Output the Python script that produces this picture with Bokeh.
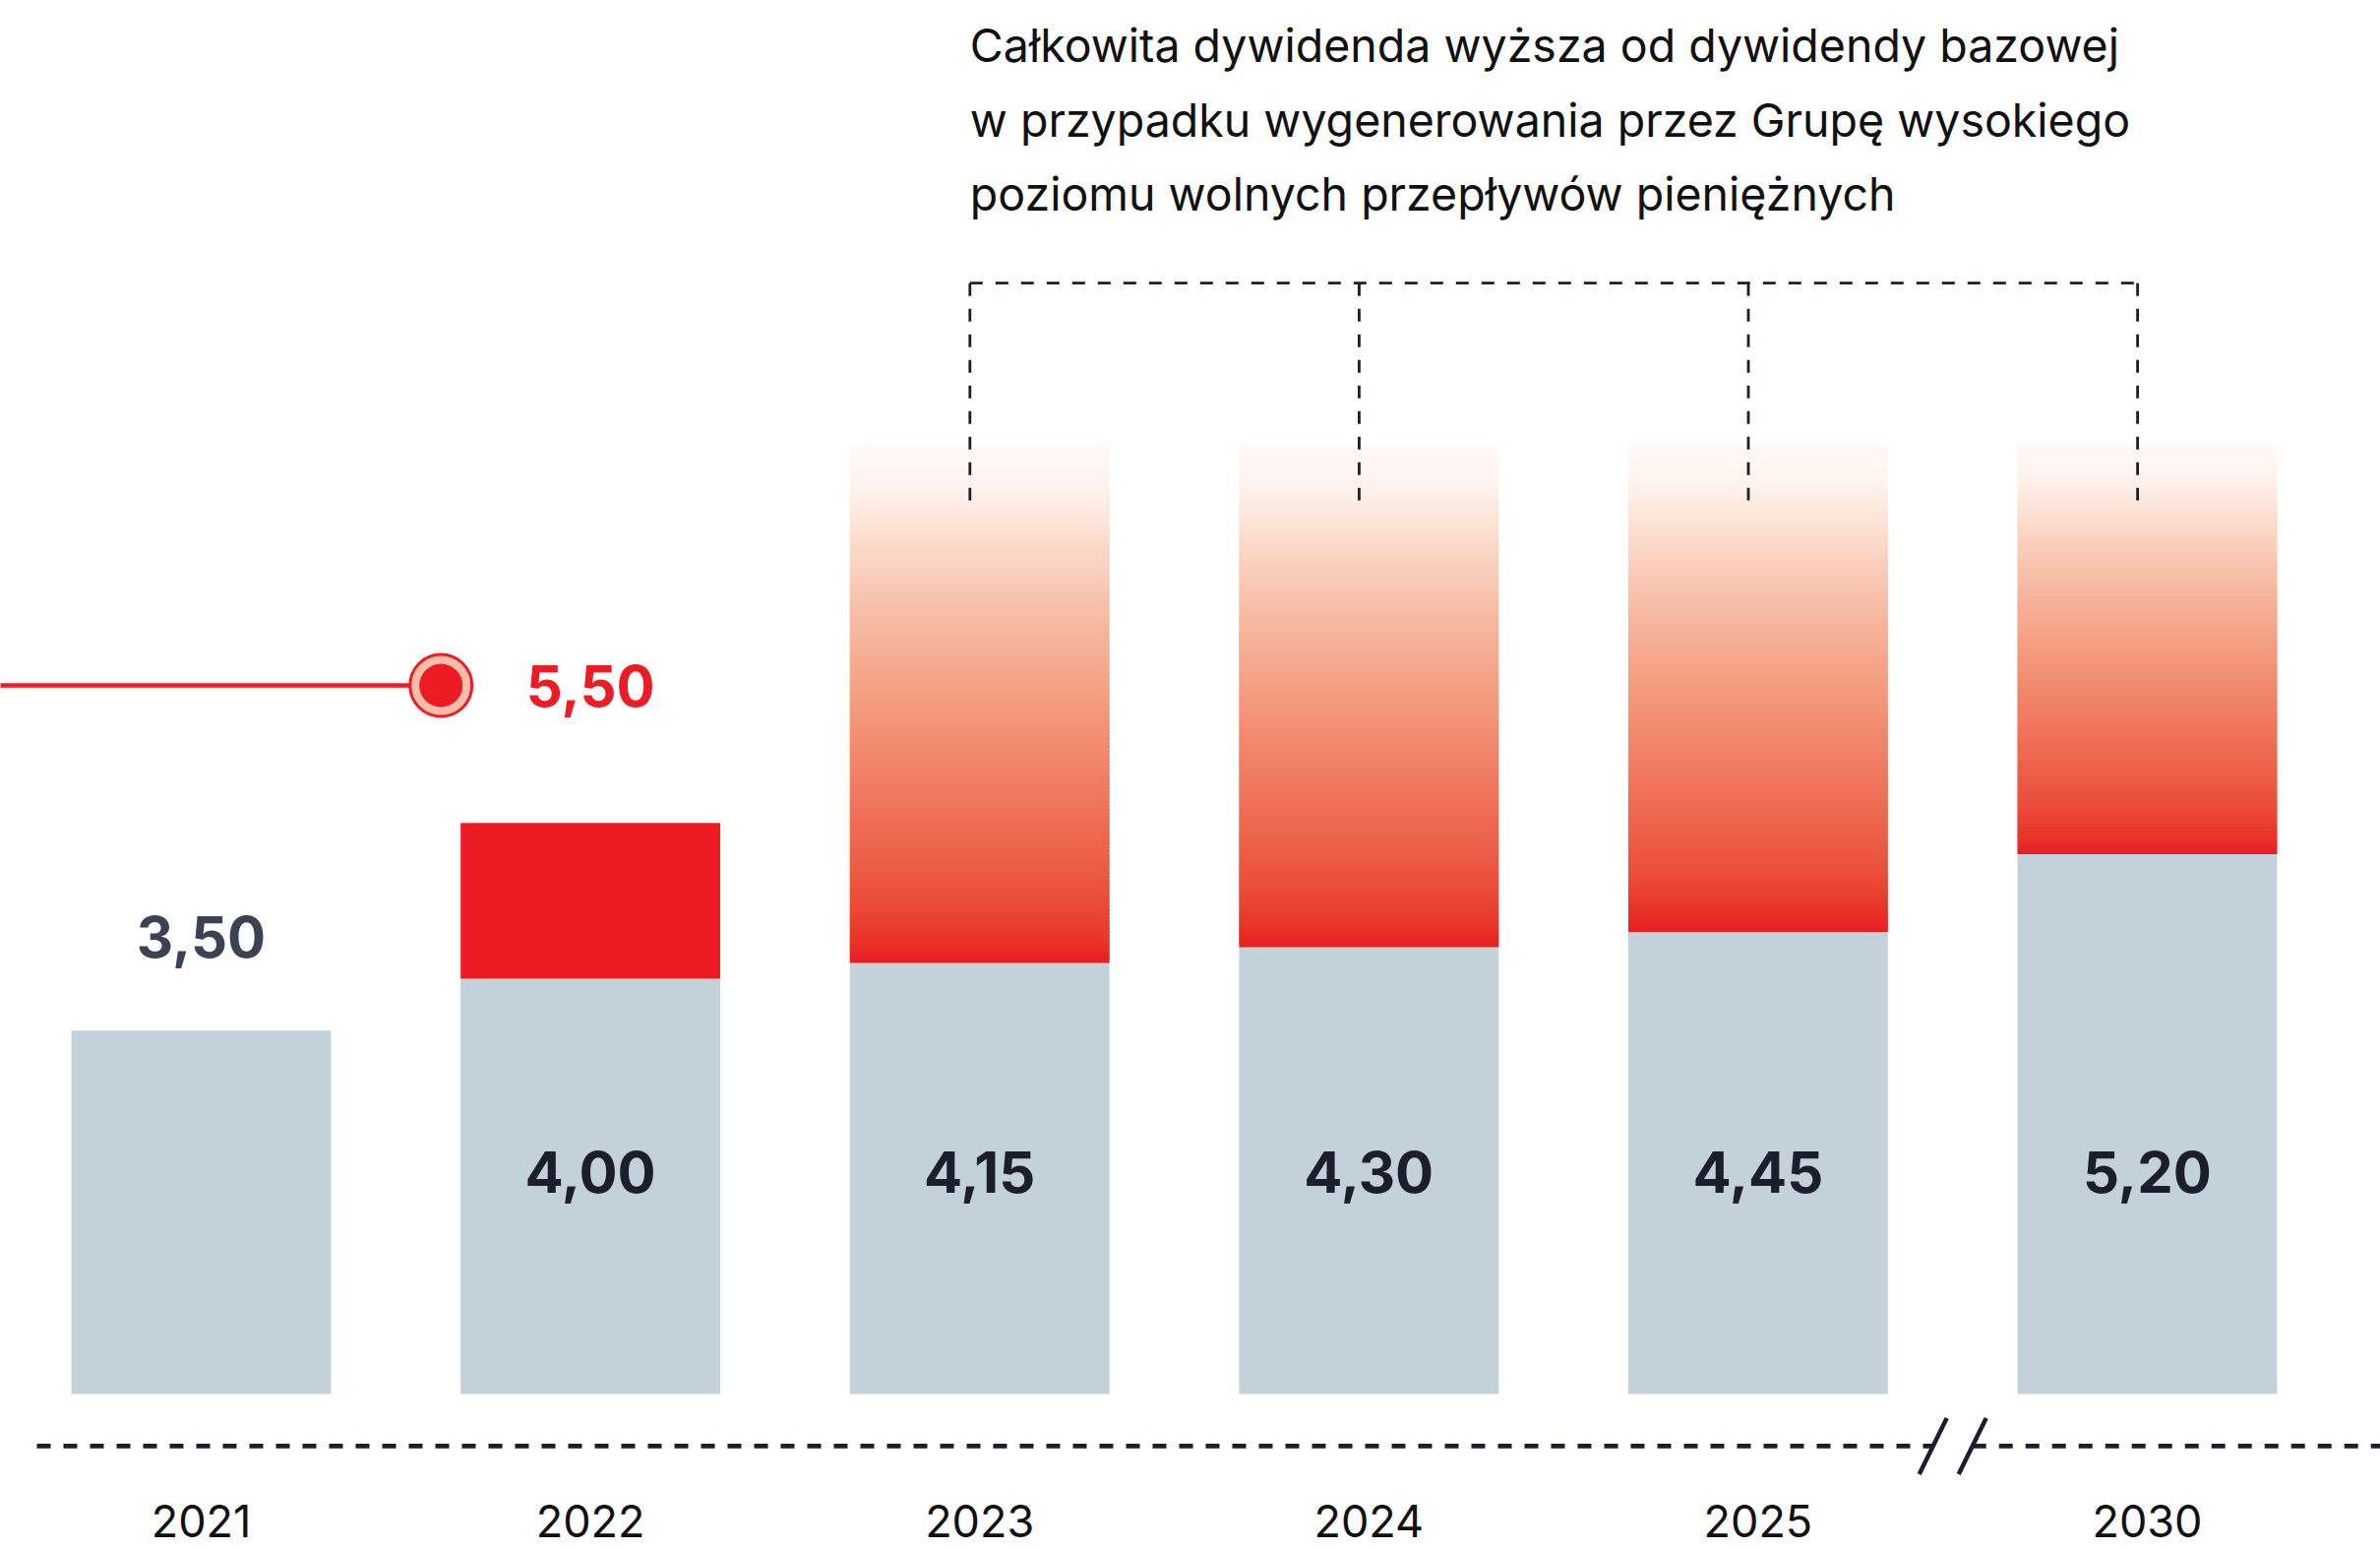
import numpy as np
from bokeh.plotting import figure
from bokeh.models import Range1d, ColumnDataSource
from bokeh.core.properties import value
from bokeh.embed import file_html
from bokeh.resources import INLINE

# ---------------- data ----------------
years = ["2021", "2022", "2023", "2024", "2025", "2030"]
base_dividend = [3.50, 4.00, 4.15, 4.30, 4.45, 5.20]
total_dividend_year = "2022"
total_dividend = 5.50
upside_years = ["2023", "2024", "2025", "2030"]
break_after_year = "2025"
title_lines = [
    "Całkowita dywidenda wyższa od dywidendy bazowej",
    "w przypadku wygenerowania przez Grupę wysokiego",
    "poziomu wolnych przepływów pieniężnych",
]

# ---------------- style ----------------
GRAY = "#C3D2D9"
RED = "#ED1C24"
RING = "#F8BEA9"
DARK = "#1C1E2E"
SLATE = "#3B4252"
INK = "#111111"
FONT = "Inter"

W, H = 2419, 1575
BAR_W = 0.667
GRAD_TOP = 9.147
INNER_Y = 2.133
ABOVE_GAP = 0.90
BASE_Y = -0.502
BASE_X0 = -0.4222
YEAR_Y = -1.222
BRACKET_TOP = 10.70
BRACKET_BOTTOM = 8.607
BRACKET_DX = -0.025
TITLE_Y0 = 12.986
LINE_STEP = 0.711
POINTER_DX = -0.384
POINTER_SCALE = 0.8059
BREAK_HALF = 0.0506
SL_DX = 0.0354
SL_DY = 0.27

def fmt(v):
    return f"{v:.2f}".replace(".", ",")

xs = list(range(len(years)))
Y0, Y1 = -1.507, 13.422
X0, X1 = -0.5157, 5.5991

p = figure(width=W, height=H, x_range=Range1d(X0, X1), y_range=Range1d(Y0, Y1),
           output_backend="svg", toolbar_location=None, min_border=0,
           x_axis_type=None, y_axis_type=None)
p.extra_y_ranges = {"pointer": Range1d(Y0 * POINTER_SCALE, Y1 * POINTER_SCALE)}
p.grid.visible = False
p.outline_line_color = None
p.background_fill_color = "white"
p.border_fill_color = "white"

# gradient "upside" parts
stops_t = [0.00, 0.04, 0.12, 0.30, 0.50, 0.68, 0.82, 0.92, 1.00]
stops_r = [232, 233, 235, 239, 243, 247, 251, 253, 254]
stops_g = [28, 50, 78, 115, 155, 190, 221, 243, 249]
stops_b = [36, 40, 58, 90, 127, 167, 207, 237, 246]
N = 140
t = np.linspace(0, 1, N + 1)
tm = (t[:-1] + t[1:]) / 2
cols = ["#%02x%02x%02x" % (int(round(np.interp(v, stops_t, stops_r))),
                           int(round(np.interp(v, stops_t, stops_g))),
                           int(round(np.interp(v, stops_t, stops_b)))) for v in tm]
gl, gr, gb, gt, gc = [], [], [], [], []
for y in upside_years:
    i = years.index(y)
    b = base_dividend[i]
    span = GRAD_TOP - b
    for k in range(N):
        gl.append(i - BAR_W / 2)
        gr.append(i + BAR_W / 2)
        gb.append(b + t[k] * span)
        gt.append(min(b + t[k + 1] * span + 0.6 * span / N, GRAD_TOP))
        gc.append(cols[k])
p.quad(left=gl, right=gr, bottom=gb, top=gt, fill_color=gc, line_color=None)

# base bars
p.vbar(x=xs, top=base_dividend, bottom=0, width=BAR_W, fill_color=GRAY, line_color=None)

# 2022 total
i22 = years.index(total_dividend_year)
p.vbar(x=[i22], bottom=[base_dividend[i22]], top=[total_dividend], width=BAR_W,
       fill_color=RED, line_color=None)

# value labels
lab_y = [base_dividend[i] + ABOVE_GAP if i == 0 else INNER_Y for i in xs]
lab_c = [SLATE if i == 0 else DARK for i in xs]
src = ColumnDataSource(dict(x=xs, y=lab_y, text=[fmt(v) for v in base_dividend], c=lab_c))
p.text(x="x", y="y", text="text", text_color="c", source=src,
       text_font=value(FONT), text_font_style="bold", text_font_size=value("58px"),
       text_align="center", text_baseline="middle")

# pointer line + dot + total label
px = i22 + POINTER_DX
p.line(x=[X0 - 1, px], y=[total_dividend, total_dividend], y_range_name="pointer",
       line_color=RED, line_width=4.5)
p.scatter(x=[px], y=[total_dividend], y_range_name="pointer", size=63,
          fill_color=RING, line_color=RED, line_width=3)
p.scatter(x=[px], y=[total_dividend], y_range_name="pointer", size=44,
          fill_color=RED, line_color=None)
p.text(x=[i22], y=[total_dividend], text=[fmt(total_dividend)], y_range_name="pointer",
       text_color=RED, text_font=value(FONT), text_font_style="bold",
       text_font_size=value("58px"), text_align="center", text_baseline="middle")

# dashed baseline with break
bx = years.index(break_after_year) + 0.5
p.segment(x0=[BASE_X0, bx + BREAK_HALF], y0=[BASE_Y, BASE_Y],
          x1=[bx - BREAK_HALF, X1 + 1], y1=[BASE_Y, BASE_Y],
          line_color=DARK, line_width=4.7, line_dash="14 13")
p.segment(x0=[bx - BREAK_HALF - SL_DX, bx + BREAK_HALF - SL_DX], y0=[BASE_Y - SL_DY] * 2,
          x1=[bx - BREAK_HALF + SL_DX, bx + BREAK_HALF + SL_DX], y1=[BASE_Y + SL_DY] * 2,
          line_color=DARK, line_width=4.5)

# year labels
p.text(x=xs, y=[YEAR_Y] * len(xs), text=years, text_color=INK,
       text_font=value(FONT), text_font_size=value("45px"),
       text_align="center", text_baseline="middle")

# bracket
vx = [years.index(y) + BRACKET_DX for y in upside_years]
p.segment(x0=vx, y0=[BRACKET_TOP] * len(vx), x1=vx, y1=[BRACKET_BOTTOM] * len(vx),
          line_color=DARK, line_width=2.8, line_dash="13 13")
p.segment(x0=[vx[0]], y0=[BRACKET_TOP], x1=[vx[-1]], y1=[BRACKET_TOP],
          line_color=DARK, line_width=2.8, line_dash="13 13")

# annotation text
p.text(x=[vx[0]] * len(title_lines),
       y=[TITLE_Y0 - j * LINE_STEP for j in range(len(title_lines))],
       text=title_lines, text_color=INK, text_font=value(FONT),
       text_font_size=value("46.5px"), text_align="left", text_baseline="middle")

open("out.html", "w").write(file_html(p, INLINE))
